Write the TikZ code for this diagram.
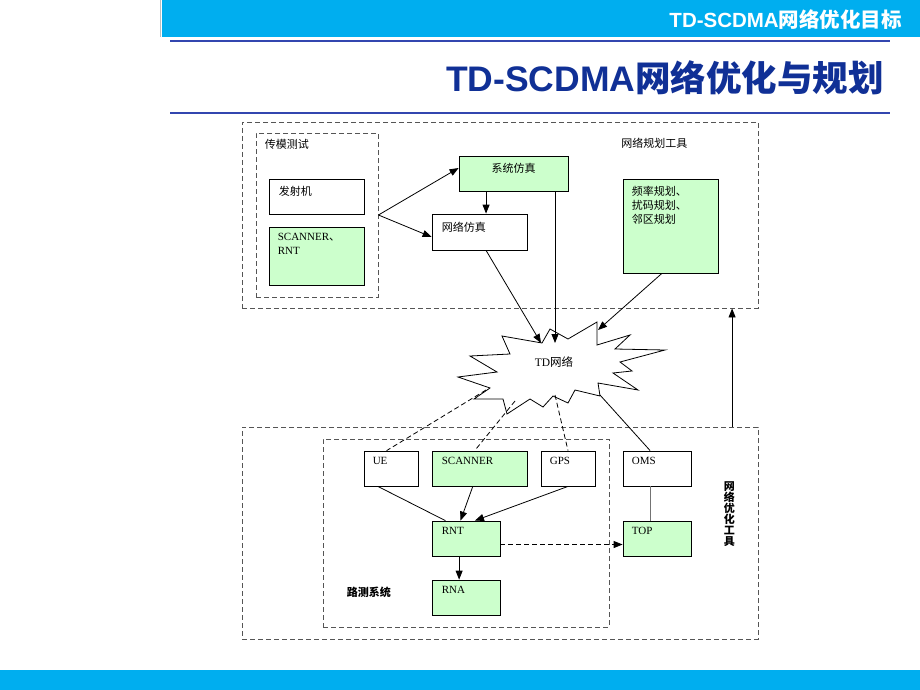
\documentclass[tikz,border=0pt]{standalone}
\usepackage{fontspec}
\setmainfont{Liberation Serif}
\newfontfamily\cjk{Noto Sans CJK SC}
\newfontfamily\hei{Liberation Sans}
\usetikzlibrary{arrows.meta,calc}
\definecolor{barblue}{RGB}{0,174,239}
\definecolor{lineblue}{RGB}{50,70,175}
\definecolor{titleblue}{RGB}{16,48,150}
\definecolor{boxgreen}{RGB}{204,255,204}
\definecolor{dashgrey}{RGB}{85,85,85}
\begin{document}
\begin{tikzpicture}[x=1pt,y=-1pt,
  box/.style={draw=black, line width=0.8pt, fill=white, inner sep=0pt},
  gbox/.style={box, fill=boxgreen},
  dbox/.style={draw=dashgrey, line width=0.9pt, dash pattern=on 5pt off 3pt, inner sep=0pt},
  lab/.style={anchor=north west, inner sep=0pt, font=\fontsize{11}{14}\selectfont, align=left, text=black},
  tip/.style={-{Triangle[length=9pt,width=7pt]}},
  arr/.style={draw=black, line width=0.8pt, tip},
  ln/.style={draw=black, line width=0.8pt},
  dln/.style={draw=black, line width=0.8pt, dash pattern=on 5pt off 3pt},
]
\useasboundingbox (0,0) rectangle (920,690);
\fill[white] (0,0) rectangle (920,690);
% header
\fill[barblue] (162,0) rectangle (920,37.5);
\draw[black!25, line width=1pt] (160,0) -- (160,37.5);
\node[anchor=east, text=white, inner sep=0pt, font=\fontsize{20.5}{22}\selectfont\bfseries] (hdr) at (902,20) {{\hei TD-SCDMA}{\cjk 网络优化目标}};
\draw[lineblue, line width=2pt] (170,41) -- (890,41);
\node[anchor=east, text=titleblue, inner sep=0pt, font=\fontsize{35.5}{38}\selectfont\bfseries] (ttl) at (884,78) {{\hei TD-SCDMA}{\cjk 网络优化与规划}};
\draw[lineblue, line width=2pt] (170,113.5) -- (890,113.5);
\fill[barblue] (0,670) rectangle (920,690);

% containers
\node[dbox, minimum width=516pt, minimum height=186pt,
  label={[lab, anchor=north east, xshift=-71pt, yshift=-16.5pt]north east:{\cjk 网络规划工具}}] (plan) at (500,215) {};
\node[dbox, minimum width=122pt, minimum height=164pt,
  label={[lab, xshift=9pt, yshift=-6.5pt]north west:{\cjk 传模测试}}] (cm) at (317,215) {};
\node[dbox, minimum width=516pt, minimum height=212pt,
  label={[lab, anchor=center, align=center, font=\fontsize{11}{11}\selectfont\cjk\bfseries, xshift=-29pt, yshift=19pt]east:{网\\络\\优\\化\\工\\具}}] (opt) at (500,533) {};
\node[dbox, minimum width=286pt, minimum height=188pt,
  label={[lab, anchor=west, font=\fontsize{11}{14}\selectfont\bfseries, xshift=24pt, yshift=35pt]south west:{\cjk 路测系统}}] (ds) at (466,533) {};

% upper boxes
\node[box, minimum width=95pt, minimum height=35pt,
  label={[lab, xshift=10pt, yshift=-7pt]north west:{\cjk 发射机}}] (fsj) at (316.5,196.5) {};
\node[gbox, minimum width=95pt, minimum height=58pt,
  label={[lab, xshift=9pt, yshift=-6pt]north west:{SCANNER{\cjk 、}\\RNT}}] (scn1) at (316.5,256) {};
\node[gbox, minimum width=109pt, minimum height=35pt,
  label={[lab, anchor=north, yshift=-7pt]north:{\cjk 系统仿真}}] (xt) at (513.5,173.5) {};
\node[box, minimum width=95pt, minimum height=36pt,
  label={[lab, xshift=10pt, yshift=-8pt]north west:{\cjk 网络仿真}}] (wl) at (479.5,232) {};
\node[gbox, minimum width=95pt, minimum height=94pt,
  label={[lab, font=\fontsize{11}{14}\selectfont\cjk, xshift=9pt, yshift=-7pt]north west:{频率规划、\\扰码规划、\\邻区规划}}] (pl) at (670.5,226) {};

% lower boxes
\node[box, minimum width=54pt, minimum height=35pt,
  label={[lab, xshift=9pt, yshift=-6.5pt]north west:{UE}}] (ue) at (391,468.5) {};
\node[gbox, minimum width=95pt, minimum height=35pt,
  label={[lab, xshift=10pt, yshift=-6.5pt]north west:{SCANNER}}] (scn2) at (479.5,468.5) {};
\node[box, minimum width=54pt, minimum height=35pt,
  label={[lab, xshift=9pt, yshift=-6.5pt]north west:{GPS}}] (gps) at (568,468.5) {};
\node[box, minimum width=68pt, minimum height=35pt,
  label={[lab, xshift=9pt, yshift=-6.5pt]north west:{OMS}}] (oms) at (657,468.5) {};
\node[gbox, minimum width=68pt, minimum height=35pt,
  label={[lab, xshift=10pt, yshift=-6.5pt]north west:{RNT}}] (rnt) at (466,538.5) {};
\node[gbox, minimum width=68pt, minimum height=35pt,
  label={[lab, xshift=9pt, yshift=-6.5pt]north west:{TOP}}] (top) at (657,538.5) {};
\node[gbox, minimum width=68pt, minimum height=35pt,
  label={[lab, xshift=10pt, yshift=-6.5pt]north west:{RNA}}] (rna) at (466,597.5) {};

% cloud
\draw[line width=0.8pt, fill=white] (550,329) -- (568,339) -- (597,322) -- (597,345) -- (630,335) -- (615,349) -- (665,350) -- (620,362) -- (632,371) -- (613,373) -- (638,390) -- (598,383) -- (600,396) -- (575,390) -- (568,403) -- (553,396) -- (543,407) -- (530,399) -- (507,414) -- (503,399) -- (474,399) -- (490,388) -- (458,377) -- (497,372) -- (470,356) -- (510,354) -- (502,336) -- (542,343) -- cycle;
\node[inner sep=0pt, font=\fontsize{11.5}{13}\selectfont] (td) at (554,362) {TD{\cjk 网络}};
\coordinate (cA) at (541,343);
\coordinate (cT) at (555,343);
\coordinate (cB) at (598,330);
\coordinate (cC) at (600,395);
\coordinate (cU) at (486,390);
\coordinate (cS) at (515,401);
\coordinate (cG) at (555,395);

% upper connectors
\draw[arr] (cm.east) -- ([yshift=5.5pt]xt.west);
\draw[arr] (cm.east) -- ([yshift=-5pt]wl.west);
\coordinate (a1) at ($(xt.south west)!0.25!(xt.south east)$);
\draw[arr] (a1) -- (a1 |- wl.north);
\draw[arr] (a1 |- wl.south) -- (cA);
\draw[arr] (cT |- xt.south) -- (cT);
\draw[arr] ($(pl.south west)!0.41!(pl.south east)$) -- (cB);

% cloud to lower
\draw[ln] (cC) -- ($(oms.north west)!0.4!(oms.north east)$);
\draw[dln] (cU) -- ($(ue.north west)!0.42!(ue.north east)$);
\draw[dln] (cS) -- ($(scn2.north west)!0.45!(scn2.north east)$);
\draw[dln] (cG) -- (gps.north);

% lower connectors
\draw[ln] ($(ue.south west)!0.26!(ue.south east)$) -- ($(rnt.north west)!0.2!(rnt.north east)$);
\draw[arr] ($(scn2.south west)!0.43!(scn2.south east)$) -- ($(rnt.north west)!0.42!(rnt.north east)$);
\draw[arr] (gps.south) -- ($(rnt.north west)!0.63!(rnt.north east)$);
\draw[arr] ($(rnt.south west)!0.4!(rnt.south east)$) -- ($(rna.north west)!0.4!(rna.north east)$);
\draw[dln, tip] ([yshift=-6pt]rnt.east) -- ([yshift=-6pt]top.west);
\draw[line width=1pt, draw=black!55] ($(oms.south west)!0.4!(oms.south east)$) -- ($(top.north west)!0.4!(top.north east)$);
\coordinate (up) at ($(opt.north west)!0.949!(opt.north east)$);
\draw[arr] (up) -- (up |- plan.south);
\end{tikzpicture}
\end{document}
